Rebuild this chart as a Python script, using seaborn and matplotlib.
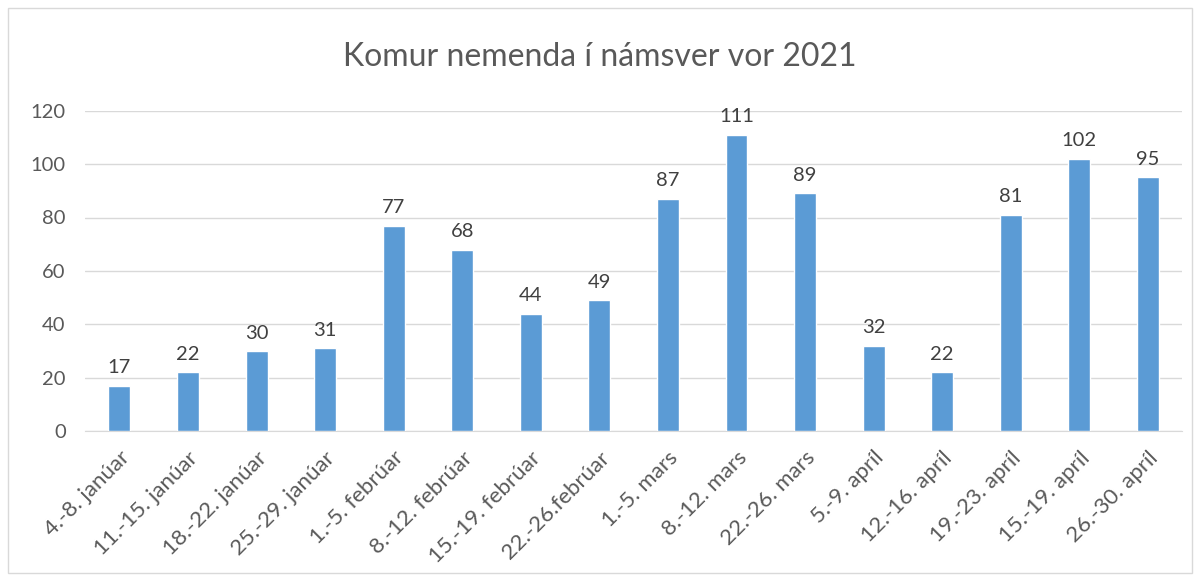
import numpy as np
import pandas as pd
import matplotlib
matplotlib.use('Agg')
import matplotlib.pyplot as plt
import seaborn as sns
from matplotlib.patches import Rectangle

# gögn lesin af myndinni
vikur = ['4.-8. janúar', '11.-15. janúar', '18.-22. janúar', '25.-29. janúar',
         '1.-5. febrúar', '8.-12. febrúar', '15.-19. febrúar', '22.-26.febrúar',
         '1.-5. mars', '8.-12. mars', '22.-26. mars', '5.-9. apríl',
         '12.-16. apríl', '19.-23. apríl', '15.-19. apríl', '26.-30. apríl']
komur = [17, 22, 30, 31, 77, 68, 44, 49, 87, 111, 89, 32, 22, 81, 102, 95]
yticks = [0, 20, 40, 60, 80, 100, 120]

df = pd.DataFrame({'vika': vikur, 'komur': komur})

sns.set_style('white')
plt.rcParams['font.family'] = ['Lato', 'DejaVu Sans']
grar = '#595959'

fig = plt.figure(figsize=(11.99, 5.80), dpi=100)
ax = fig.add_axes([0.071, 0.257, 0.915, 0.552])

sns.barplot(data=df, x='vika', y='komur', color='#5B9BD5', width=0.32,
            saturation=1, ax=ax, zorder=3)

for i, v in enumerate(komur):
    ax.text(i, v + 3.5, str(v), ha='center', va='bottom', fontsize=14.5, color='#404040')

ax.set_ylim(0, 120)
ax.set_yticks(yticks)
ax.yaxis.grid(True, color='#D9D9D9', linewidth=1, zorder=0)
ax.set_xlabel('')
ax.set_ylabel('')
ax.tick_params(axis='y', labelsize=14.5, colors=grar, length=0, pad=14)
ax.tick_params(axis='x', labelsize=16, colors=grar, length=0, pad=12)
plt.setp(ax.get_xticklabels(), rotation=45, ha='right', rotation_mode='anchor')
for s in ['top', 'right', 'left']:
    ax.spines[s].set_visible(False)
ax.spines['bottom'].set_color('#D9D9D9')

fig.text(0.5, 0.902, 'Komur nemenda í námsver vor 2021', ha='center', va='center',
         fontsize=23, color=grar)

fig.patches.append(Rectangle((0.007, 0.012), 0.987, 0.975, transform=fig.transFigure,
                             fill=False, edgecolor='#D9D9D9', linewidth=1))

fig.savefig('out.png', dpi=100)
